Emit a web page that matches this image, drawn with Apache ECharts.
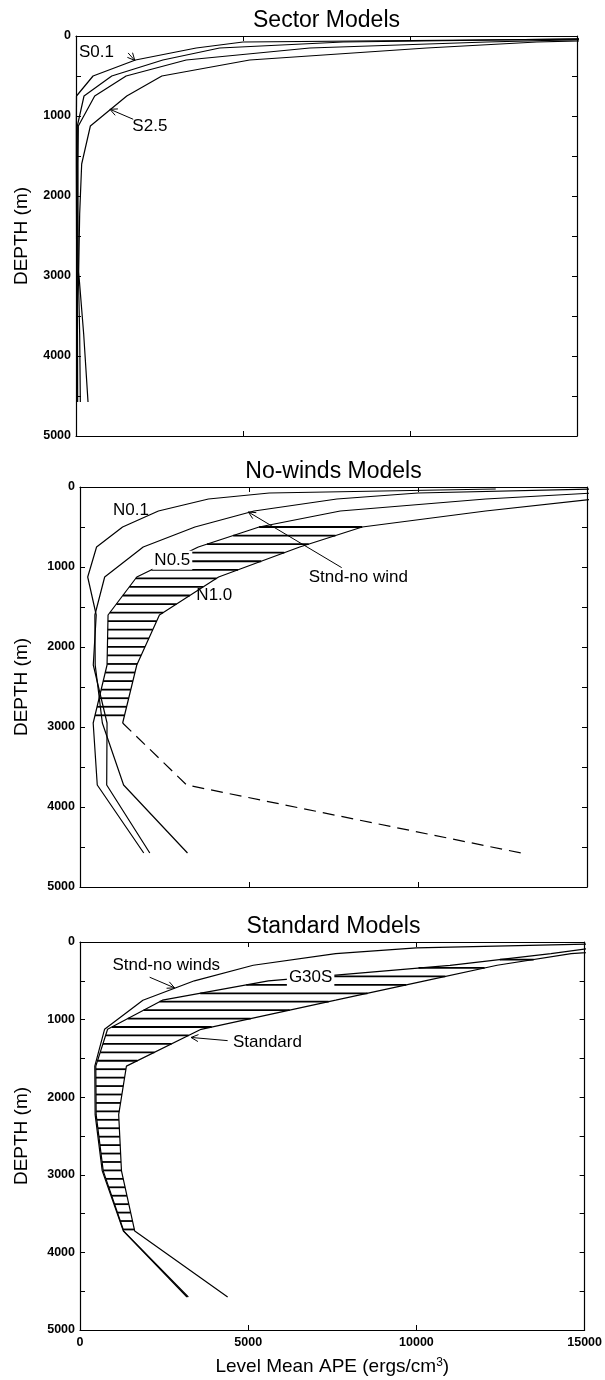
<!DOCTYPE html>
<html>
<head>
<meta charset="utf-8">
<script src="https://cdn.jsdelivr.net/npm/echarts@6/dist/echarts.min.js"></script>
<style>
html,body{margin:0;padding:0;background:#fff;}
#c{width:605px;height:1380px;}
</style>
</head>
<body>
<div id="c"></div>
<script>
// ---------------- data ----------------
const depthLevels = [25, 75, 150, 300, 500, 750, 1125, 1600, 2225, 2950, 3725, 4575]; // m
const apeTicks = [0, 5000, 10000, 15000];
const depthTicks = [0, 1000, 2000, 3000, 4000, 5000];

// Sector models
const s01 = [19000, 5000, 3600, 1780, 510, 15, 10, 10, 15, 20, 25, 30];
const s05 = [17000, 8000, 4300, 2600, 1070, 240, 40, 40, 40, 40, 45, 50];
const s10 = [17000, 12300, 7000, 3300, 1500, 560, 70, 60, 60, 70, 110, 130];
const s25 = [18000, 13800, 10500, 5200, 2570, 1520, 430, 170, 110, 80, 230, 360];

// No-winds models
const n01 = [12300, 5600, 3800, 2320, 1260, 490, 228, 480, 393, 800, 790, 2065];
const n05 = [20000, 15200, 12000, 7700, 5300, 3500, 1680, 830, 800, 390, 511, 1886];
const n10 = [26000, 21000, 15200, 12000, 8350, 6500, 4100, 2350, 1680, 1262, 3156, 13050];
const stndNoWind = [15300, 10000, 7600, 5150, 3400, 1870, 730, 440, 450, 661, 1290, 3180];

// Standard models
const g30s = [17000, 15300, 14000, 11000, 5600, 2450, 820, 470, 480, 690, 1300, 3220];
const standard = [22000, 17000, 14600, 12400, 10250, 7600, 3600, 1380, 1150, 1233, 1627, 4389];

// ---------------- layout / style ----------------
const FONT = '"Liberation Sans", Arial, Helvetica, sans-serif';
const grids = [
  {left: 76, top: 36, width: 501, height: 400},
  {left: 80, top: 487, width: 507, height: 400},
  {left: 80, top: 942, width: 507, height: 388}
];
const titles = ['Sector Models', 'No-winds Models', 'Standard Models'];
const titleTop = [9.5, 460.5, 915.5];

const chart = echarts.init(document.getElementById('c'), null, {renderer: 'canvas'});

const axisLineStyle = {color: '#000', width: 1.2};
const tickLabel = {color: '#000', fontSize: 12.5, fontWeight: 'bold', fontFamily: FONT};
const xAxes = [], yAxes = [];
grids.forEach((g, i) => {
  const last = i === 2;
  const xBase = {
    gridIndex: i, type: 'value', min: apeTicks[0], max: apeTicks[apeTicks.length - 1],
    interval: apeTicks[1] - apeTicks[0],
    axisLine: {show: true, onZero: false, lineStyle: axisLineStyle},
    axisTick: {show: true, inside: true, length: 5, lineStyle: {color: '#000', width: 1}},
    splitLine: {show: false}
  };
  xAxes.push(Object.assign({}, xBase, {
    position: 'bottom',
    axisLabel: Object.assign({show: last, margin: 6, formatter: v => String(v)}, tickLabel),
    name: last ? 'Level Mean APE (ergs/cm{sup|3})' : '',
    nameLocation: 'middle', nameGap: 27,
    nameTextStyle: {color: '#000', fontSize: 19, fontFamily: FONT,
      rich: {sup: {fontSize: 12, fontFamily: FONT, color: '#000', verticalAlign: 'top', padding: [0, 0, 7, 0]}}}
  }));
  xAxes.push(Object.assign({}, xBase, {position: 'top', axisLabel: {show: false}}));
  const yBase = {
    gridIndex: i, type: 'value', inverse: true, min: depthTicks[0], max: depthTicks[depthTicks.length - 1],
    interval: 500,
    axisLine: {show: true, onZero: false, lineStyle: axisLineStyle},
    axisTick: {show: true, inside: true, length: 5, lineStyle: {color: '#000', width: 1}},
    splitLine: {show: false}
  };
  yAxes.push(Object.assign({}, yBase, {
    position: 'left',
    axisLabel: Object.assign({show: true, margin: 5,
      formatter: v => depthTicks.indexOf(v) >= 0 ? String(v) : ''}, tickLabel),
    name: 'DEPTH (m)', nameLocation: 'middle', nameRotate: 90, nameGap: g.left - 31,
    nameTextStyle: {color: '#000', fontSize: 19, fontFamily: FONT}
  }));
  yAxes.push(Object.assign({}, yBase, {position: 'right', axisLabel: {show: false}}));
});

function pts(vals, from, to) {
  const out = [];
  for (let k = from; k <= to; k++) out.push([vals[k], depthLevels[k]]);
  return out;
}
function lineSeries(name, vals, gi, from, to, dashed) {
  return {
    type: 'line', name, xAxisIndex: 2 * gi, yAxisIndex: 2 * gi,
    data: pts(vals, from === undefined ? 0 : from, to === undefined ? vals.length - 1 : to),
    symbol: 'none', showSymbol: false, clip: true, silent: true, animation: false, z: 3,
    lineStyle: {color: '#000', width: 1.2, type: dashed ? [12, 7] : 'solid'}
  };
}
function xAt(P, y) {
  for (let i = 0; i < P.length - 1; i++) {
    const a = P[i], b = P[i + 1];
    if ((y - a[1]) * (y - b[1]) <= 0 && a[1] !== b[1]) {
      return a[0] + (y - a[1]) / (b[1] - a[1]) * (b[0] - a[0]);
    }
  }
  return null;
}
function hatchSeries(gi, leftVals, rightVals, fromIdx, toIdx, startDepth, stepDepth) {
  return {
    type: 'custom', xAxisIndex: 2 * gi, yAxisIndex: 2 * gi, data: [[0, 0]],
    silent: true, animation: false, clip: true, z: 2,
    renderItem: function (params, api) {
      const L = [], R = [];
      for (let k = fromIdx; k <= toIdx; k++) {
        L.push(api.coord([leftVals[k], depthLevels[k]]));
        R.push(api.coord([rightVals[k], depthLevels[k]]));
      }
      const children = [];
      for (let d = startDepth; d <= depthLevels[toIdx]; d += stepDepth) {
        const y = api.coord([0, d])[1];
        const xl = xAt(L, y), xr = xAt(R, y);
        if (xl === null || xr === null) continue;
        children.push({type: 'line', shape: {x1: xl, y1: y, x2: xr, y2: y},
          style: {stroke: '#000', lineWidth: 1.8}});
      }
      return {type: 'group', children};
    }
  };
}

const series = [
  lineSeries('S0.1', s01, 0), lineSeries('S0.5', s05, 0), lineSeries('S1.0', s10, 0), lineSeries('S2.5', s25, 0),
  hatchSeries(1, n05, n10, 3, 9, 500, 107),
  lineSeries('N0.1', n01, 1), lineSeries('N0.5', n05, 1),
  lineSeries('N1.0', n10, 1, 0, 9), lineSeries('N1.0 (deep)', n10, 1, 9, 11, true),
  lineSeries('Stnd-no wind', stndNoWind, 1),
  hatchSeries(2, g30s, standard, 2, 10, 226, 108.7),
  lineSeries('Stnd-no winds', stndNoWind, 2), lineSeries('G30S', g30s, 2), lineSeries('Standard', standard, 2)
];

chart.setOption({
  animation: false,
  backgroundColor: '#fff',
  title: titles.map((t, i) => ({
    text: t, left: grids[i].left + grids[i].width / 2, top: titleTop[i], textAlign: 'center', padding: 0,
    textStyle: {color: '#000', fontSize: 23, fontWeight: 'normal', fontFamily: FONT}
  })),
  grid: grids,
  xAxis: xAxes,
  yAxis: yAxes,
  series
});

// ---------------- annotations (positions in data units) ----------------
const notes = [
  {g: 0, text: 'S0.1', at: [612, 205]},
  {g: 0, text: 'S2.5', at: [2211, 1125]},
  {g: 1, text: 'N0.1', at: [1509, 291]},
  {g: 1, text: 'N0.5', at: [2731, 916], bg: true},
  {g: 1, text: 'N1.0', at: [3974, 1354]},
  {g: 1, text: 'Stnd-no wind', at: [8235, 1125]},
  {g: 2, text: 'Stnd-no winds', at: [2564, 299]},
  {g: 2, text: 'G30S', at: [6855, 454], bg: true},
  {g: 2, text: 'Standard', at: [5571, 1288]}
];
const arrows = [
  {g: 0, from: [1560, 212], to: [1760, 305]},
  {g: 0, from: [1713, 1041], to: [1016, 916]},
  {g: 1, from: [7742, 1008], to: [4980, 312]},
  {g: 2, from: [2071, 454], to: [2811, 591]},
  {g: 2, from: [4389, 1271], to: [3300, 1230]}
];
function px(g, p) { return chart.convertToPixel({gridIndex: g}, p); }
const graphics = [];
notes.forEach(n => {
  const p = px(n.g, n.at);
  graphics.push({
    type: 'text', x: p[0], y: p[1], z: 10,
    style: Object.assign({text: n.text, fill: '#000', fontSize: 17, fontFamily: FONT,
      align: 'center', verticalAlign: 'middle'},
      n.bg ? {backgroundColor: '#fff', padding: [1, 2]} : {})
  });
});
arrows.forEach(a => {
  const f = px(a.g, a.from), t = px(a.g, a.to);
  const ang = Math.atan2(t[1] - f[1], t[0] - f[0]);
  const len = 8, th = 0.45;
  const h1 = [t[0] - len * Math.cos(ang - th), t[1] - len * Math.sin(ang - th)];
  const h2 = [t[0] - len * Math.cos(ang + th), t[1] - len * Math.sin(ang + th)];
  graphics.push({type: 'line', z: 10, shape: {x1: f[0], y1: f[1], x2: t[0], y2: t[1]},
    style: {stroke: '#000', lineWidth: 1}});
  graphics.push({type: 'polyline', z: 10, shape: {points: [h1, t, h2]},
    style: {stroke: '#000', lineWidth: 1, fill: null}});
});
chart.setOption({graphic: graphics});
</script>
</body>
</html>
